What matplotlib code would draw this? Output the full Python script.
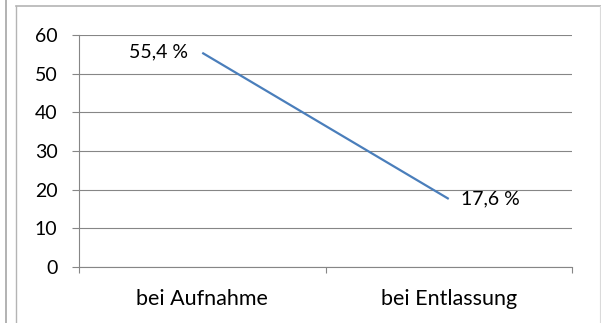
import matplotlib.pyplot as plt
from matplotlib.lines import Line2D

# Anteil in Prozent
kategorien = ["bei Aufnahme", "bei Entlassung"]
werte = [55.4, 17.6]
wert_labels = ["55,4 %", "17,6 %"]
y_ticks = [0, 10, 20, 30, 40, 50, 60]

plt.rcParams['font.family'] = ['Lato', 'DejaVu Sans']
plt.rcParams['font.size'] = 14

W, H = 601, 323
fig = plt.figure(figsize=(W / 100, H / 100), dpi=100)
ax = fig.add_axes([79 / W, 1 - 267 / H, (572 - 79) / W, (267 - 35) / H])

grau = '#868686'
blau = '#4a7ebb'

x = [i + 0.5 for i in range(len(kategorien))]
ax.plot(x, werte, color=blau, linewidth=1.6, solid_capstyle='butt')

# Datenbeschriftungen
ax.annotate(wert_labels[0], (x[0], werte[0]), xytext=(-10, 1),
            textcoords='offset points', ha='right', va='center')
ax.annotate(wert_labels[1], (x[1], werte[1]), xytext=(9, 0),
            textcoords='offset points', ha='left', va='center')

ax.set_xlim(0, len(kategorien))
ax.set_ylim(0, 60)
ax.set_yticks(y_ticks)
ax.yaxis.grid(True, color=grau, linewidth=0.8)
ax.set_axisbelow(True)

ax.set_xticks(range(len(kategorien) + 1))
ax.set_xticklabels([])
ax.set_xticks(x, minor=True)
ax.set_xticklabels(kategorien, minor=True, fontsize=15.5)
ax.tick_params(axis='x', which='major', direction='out', length=4.5,
               color=grau, width=0.8)
ax.tick_params(axis='x', which='minor', length=0, pad=15.5)
ax.tick_params(axis='y', direction='out', length=5, color=grau, width=0.8,
               pad=10.5)

for s in ['top', 'right']:
    ax.spines[s].set_visible(False)
for s in ['left', 'bottom']:
    ax.spines[s].set_color(grau)
    ax.spines[s].set_linewidth(0.8)

# Rahmen um das Diagramm
def fx(px):
    return px / W

def fy(py):
    return 1 - py / H

fig.add_artist(Line2D([fx(5.5), fx(5.5)], [0, 1], color='#a6a6a6', linewidth=1.2))
fig.add_artist(Line2D([fx(15.5), fx(15.5)], [0, fy(5.5)], color='#b4b4b4', linewidth=1.0))
fig.add_artist(Line2D([fx(15.5), fx(600.5)], [fy(5.5), fy(5.5)], color='#b4b4b4', linewidth=1.2))
fig.add_artist(Line2D([fx(599.5), fx(599.5)], [0, fy(5.5)], color='#dadada', linewidth=0.8))

fig.savefig('out.png', dpi=100)
